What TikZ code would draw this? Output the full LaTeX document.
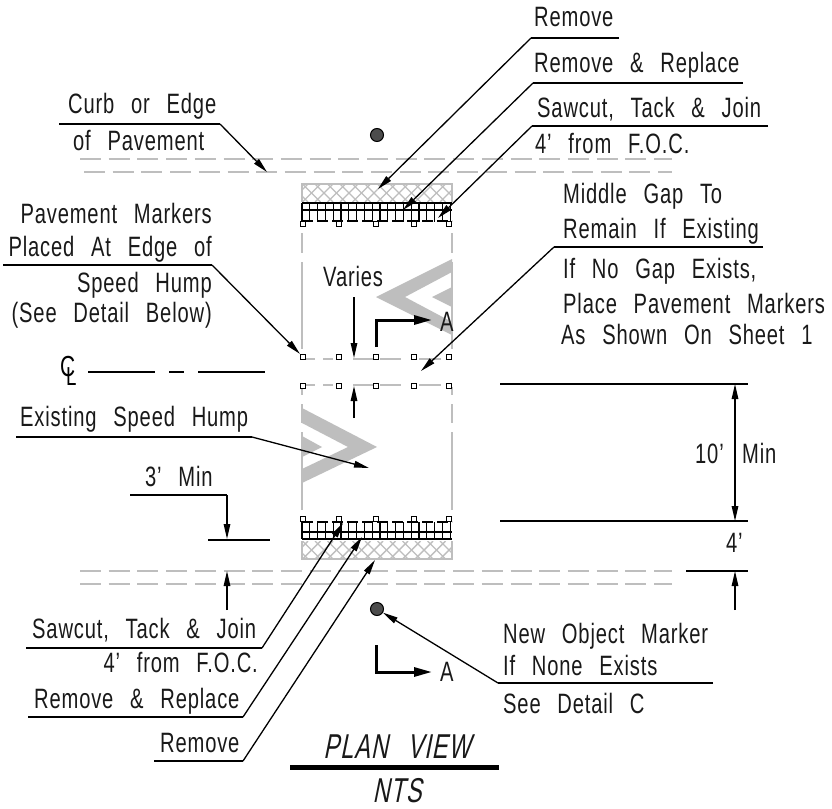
\documentclass[tikz,border=0pt]{standalone}
\usepackage{fontspec}
\setmainfont{Liberation Sans}[FakeStretch=0.72,LetterSpace=3,WordSpace=2.6]
\newfontfamily\slantfont{Liberation Sans}[FakeStretch=0.68,LetterSpace=3,WordSpace=2.6,FakeSlant=0.2]
\usetikzlibrary{arrows.meta}
\definecolor{paleg}{RGB}{190,190,190}
\tikzset{
 lbl/.style={anchor=base west,inner sep=0pt,font=\fontsize{28}{28}\selectfont,text=black!90},
 lblr/.style={lbl,anchor=base east},
 ttl/.style={anchor=base,inner sep=0pt,font=\slantfont\fontsize{34.5}{34.5}\selectfont,text=black!90},
 leader/.style={draw=black,line width=1.3pt,-{Triangle[length=15pt,width=6.5pt]}},
 rule/.style={draw=black,line width=1.3pt},
 dimline/.style={draw=black,line width=1.3pt,-{Triangle[length=15pt,width=6.5pt]}},
 dimboth/.style={draw=black,line width=1.3pt,{Triangle[length=15pt,width=6.5pt]}-{Triangle[length=15pt,width=6.5pt]}},
 secline/.style={draw=black,line width=3pt,-{Triangle[length=18pt,width=9pt]}},
 pave/.style={draw=paleg,line width=1.8pt,dash pattern=on 21pt off 7.7pt},
 edgeg/.style={draw=paleg,line width=1.8pt},
 chev/.style={fill=paleg,draw=none},
 mk/.style={draw=black,fill=white,line width=1.2pt,minimum size=5pt,inner sep=0pt,rectangle},
 objm/.style={circle,draw=black,fill=black!70,line width=1pt,minimum size=13pt,inner sep=0pt},
 hatchl/.style={draw=paleg,line width=1.4pt},
 gridl/.style={draw=black,line width=1.1pt},
}
\begin{document}
\begin{tikzpicture}[x=1pt,y=-1pt]
\useasboundingbox[fill=white] (0,0) rectangle (832,808);

% curb lines
\draw[pave] (80,159) -- (672,159);
\draw[pave] (84,172) -- (672,172);
\draw[pave] (80,571) -- (672,571);
\draw[pave] (80,584) -- (672,584);

% chevrons
\fill[chev] (452,259) -- (376,297) -- (452,335) -- (452,322) -- (405,297) -- (452,272) -- cycle;
\fill[chev] (452,287) -- (432,297) -- (452,307) -- cycle;
\fill[chev] (302,408) -- (377,447) -- (302,483) -- (302,469) -- (348,447) -- (302,423) -- cycle;
\fill[chev] (302,436) -- (322,447) -- (302,457) -- cycle;

% hump outline
\foreach \x in {302,452} {
 \draw[edgeg] (\x,233) -- (\x,253);
 \draw[edgeg] (\x,262) -- (\x,349);
 \draw[edgeg] (\x,387) -- (\x,395);
 \draw[edgeg] (\x,404) -- (\x,423);
 \draw[edgeg] (\x,432) -- (\x,510);
}
\foreach \y in {359,385} {
 \foreach \a/\b in {306/315,323/333,353/373,380/401,419/441} {
  \draw[edgeg] (\a,\y) -- (\b,\y);
 }
}

% cross hatching
\begin{scope}
\clip (302,184) rectangle (452,202);
\foreach \i in {0,...,16} {
 \draw[hatchl] (290+\i*12.5,184) -- (308+\i*12.5,202);
 \draw[hatchl] (308+\i*12.5,184) -- (290+\i*12.5,202);
}
\end{scope}
\draw[hatchl] (302,202) -- (302,184) -- (452,184) -- (452,202);
\begin{scope}
\clip (302,541) rectangle (452,559);
\foreach \i in {0,...,16} {
 \draw[hatchl] (290+\i*12.5,541) -- (308+\i*12.5,559);
 \draw[hatchl] (308+\i*12.5,541) -- (290+\i*12.5,559);
}
\end{scope}
\draw[hatchl] (302,541) -- (302,559) -- (452,559) -- (452,541);

% grids
\foreach \i in {0,...,19} {
 \draw[gridl] (302+\i*7.8,203) -- (302+\i*7.8,222);
 \draw[gridl] (302+\i*7.8,522) -- (302+\i*7.8,539);
}
\draw[gridl,line width=1.5pt] (302,203) -- (452,203);
\draw[gridl] (302,210) -- (452,210);
\draw[gridl,dash pattern=on 11pt off 4pt] (302,221) -- (452,221);
\draw[gridl,line width=1.8pt] (302,539) -- (452,539);
\draw[gridl] (302,532) -- (452,532);
\draw[gridl,dash pattern=on 11pt off 4pt] (302,522) -- (452,522);

% markers
\foreach \n/\x in {a/303,b/339,c/376,d/414,e/449} {
 \node[mk] (t\n) at (\x,224) {};
 \node[mk] (u\n) at (\x,357) {};
 \node[mk] (v\n) at (\x,386) {};
 \node[mk] (w\n) at (\x,519) {};
}

% object markers
\node[objm] (objtop) at (377,135) {};
\node[objm] (objbot) at (377,609) {};

% top right labels
\node[lbl] (rem1) at (534,27) {Remove};
\coordinate (rem1a) at (531,38); \coordinate (rem1b) at (619,38); \coordinate (rem1t) at (378,189);
\draw[rule] (rem1b) -- (rem1a); \draw[leader] (rem1a) -- (rem1t);
\node[lbl] (rr1) at (534,73) {Remove \& Replace};
\coordinate (rr1a) at (533,83); \coordinate (rr1b) at (743,83); \coordinate (rr1t) at (403,210);
\draw[rule] (rr1b) -- (rr1a); \draw[leader] (rr1a) -- (rr1t);
\node[lbl] (saw1) at (537,117) {Sawcut, Tack \& Join};
\node[lbl] (foc1) at (535,153) {4' from F.O.C.};
\coordinate (saw1a) at (532,126); \coordinate (saw1b) at (768,126); \coordinate (saw1t) at (438,218);
\draw[rule] (saw1b) -- (saw1a); \draw[leader] (saw1a) -- (saw1t);

% curb label
\node[lbl] (curb1) at (68,113) {Curb or Edge};
\node[lbl] (curb2) at (73,150) {of Pavement};
\coordinate (curba) at (59,124); \coordinate (curbb) at (220,124); \coordinate (curbt) at (267,172);
\draw[rule] (curba) -- (curbb); \draw[leader] (curbb) -- (curbt);

% middle gap label
\node[lbl] (gap1) at (563,203) {Middle Gap To};
\node[lbl] (gap2) at (563,238) {Remain If Existing};
\node[lbl] (gap3) at (563,278) {If No Gap Exists,};
\node[lbl] (gap4) at (563,313) {Place Pavement Markers};
\node[lbl] (gap5) at (561,344) {As Shown On Sheet 1};
\coordinate (gapa) at (554,247); \coordinate (gapb) at (763,247); \coordinate (gapt) at (421,371);
\draw[rule] (gapb) -- (gapa); \draw[leader] (gapa) -- (gapt);

% pavement markers label
\node[lblr] (pm1) at (212,223) {Pavement Markers};
\node[lblr] (pm2) at (212,256) {Placed At Edge of};
\node[lblr] (pm3) at (212,292) {Speed Hump};
\node[lblr] (pm4) at (212,322) {(See Detail Below)};
\coordinate (pma) at (3,265); \coordinate (pmb) at (212,265);
\draw[rule] (pma) -- (pmb); \draw[leader] (pmb) -- (ua);

% varies
\node[lbl] (var) at (323,286) {Varies};
\coordinate (vara) at (354,297); \coordinate (vart) at (354,358);
\draw[dimline] (vara) -- (vart);
\coordinate (varb) at (354,418); \coordinate (varc) at (354,386);
\draw[dimline] (varb) -- (varc);

% section arrows
\coordinate (s1a) at (376,347); \coordinate (s1b) at (376,320); \coordinate (s1c) at (432,320);
\draw[secline] (s1a) -- (s1b) -- (s1c);
\node[lbl] (seca1) at (440,331) {A};
\coordinate (s2a) at (376,645); \coordinate (s2b) at (376,672); \coordinate (s2c) at (432,672);
\draw[secline] (s2a) -- (s2b) -- (s2c);
\node[lbl] (seca2) at (440,681) {A};

% centre line
\node[anchor=base west,inner sep=0pt,font=\fontsize{29}{29}\selectfont] (clsym) at (60,376) {\rlap{C}\kern6pt\raisebox{-9pt}{\fontsize{26}{26}\selectfont L}};
\coordinate (cl1) at (88,372); \coordinate (cl2) at (155,372); \coordinate (cl3) at (169,372);
\coordinate (cl4) at (184,372); \coordinate (cl5) at (198,372); \coordinate (cl6) at (265,372);
\draw[rule] (cl1) -- (cl2); \draw[rule] (cl3) -- (cl4); \draw[rule] (cl5) -- (cl6);

% existing speed hump
\node[lbl] (esh) at (20,426) {Existing Speed Hump};
\coordinate (esha) at (16,437); \coordinate (eshb) at (252,437); \coordinate (esht) at (369,468);
\draw[rule] (esha) -- (eshb); \draw[leader] (eshb) -- (esht);

% right dimensions
\coordinate (d1a) at (500,384); \coordinate (d1b) at (748,384);
\coordinate (d2a) at (500,521); \coordinate (d2b) at (748,521);
\draw[rule] (d1a) -- (d1b); \draw[rule] (d2a) -- (d2b);
\coordinate (d3a) at (735,384); \coordinate (d3b) at (735,521);
\draw[dimboth] (d3a) -- (d3b);
\node[lbl] (ten) at (695,463) {10'};
\node[lbl] (tenm) at (742,463) {Min};
\node[lbl] (four) at (726,552) {4'};
\coordinate (d4a) at (686,571); \coordinate (d4b) at (748,571);
\draw[rule] (d4a) -- (d4b);
\coordinate (d5a) at (735,610); \coordinate (d5b) at (735,571);
\draw[dimline] (d5a) -- (d5b);

% 3 min
\node[lbl] (three) at (145,486) {3' Min};
\coordinate (t1a) at (130,495); \coordinate (t1b) at (227,495); \coordinate (t1c) at (227,539);
\draw[rule] (t1a) -- (t1b); \draw[dimline] (t1b) -- (t1c);
\coordinate (t2a) at (208,540); \coordinate (t2b) at (270,540);
\draw[rule] (t2a) -- (t2b);
\coordinate (t3a) at (227,610); \coordinate (t3b) at (227,571);
\draw[dimline] (t3a) -- (t3b);

% bottom left labels
\node[lbl] (saw2) at (32,638) {Sawcut, Tack \& Join};
\node[lblr] (foc2) at (258,672) {4' from F.O.C.};
\coordinate (saw2a) at (26,648); \coordinate (saw2b) at (262,648); \coordinate (saw2t) at (343,523);
\draw[rule] (saw2a) -- (saw2b); \draw[leader] (saw2b) -- (saw2t);
\node[lbl] (rr2) at (34,708) {Remove \& Replace};
\coordinate (rr2a) at (28,717); \coordinate (rr2b) at (243,717); \coordinate (rr2t) at (362,537);
\draw[rule] (rr2a) -- (rr2b); \draw[leader] (rr2b) -- (rr2t);
\node[lbl] (rem2) at (160,752) {Remove};
\coordinate (rem2a) at (154,761); \coordinate (rem2b) at (243,761); \coordinate (rem2t) at (375,560);
\draw[rule] (rem2a) -- (rem2b); \draw[leader] (rem2b) -- (rem2t);

% object marker label
\node[lbl] (obj1) at (503,643) {New Object Marker};
\node[lbl] (obj2) at (503,675) {If None Exists};
\node[lbl] (obj3) at (503,713) {See Detail C};
\coordinate (obja) at (713,683); \coordinate (objb) at (498,683);
\draw[rule] (obja) -- (objb); \draw[leader] (objb) -- (objbot);

% title
\node[ttl] (plan) at (397,758) {PLAN VIEW};
\coordinate (bara) at (290,767); \coordinate (barb) at (499,767);
\draw[black,line width=5pt] (bara) -- (barb);
\node[ttl] (nts) at (397,802) {NTS};
\end{tikzpicture}
\end{document}
